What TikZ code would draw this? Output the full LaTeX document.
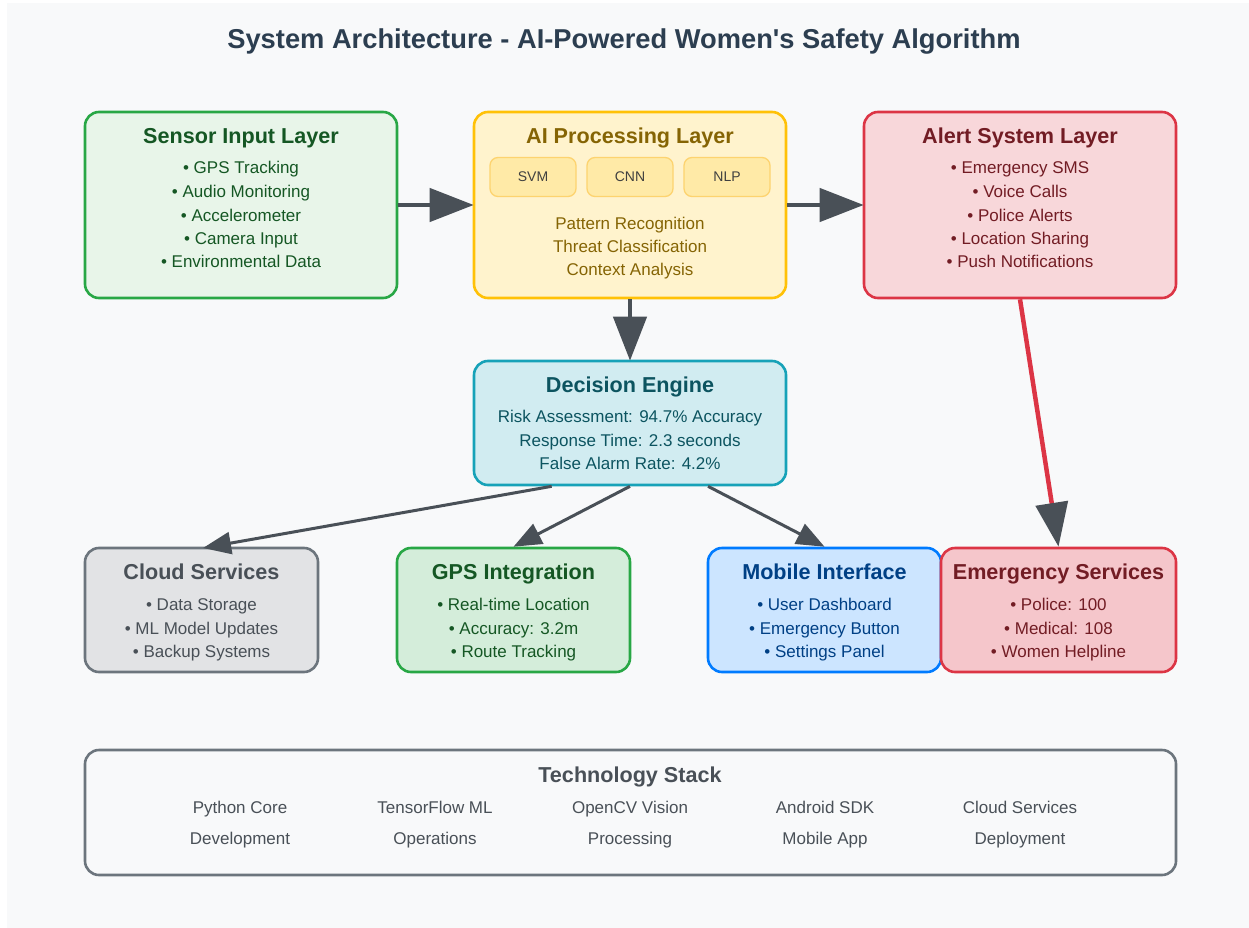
\documentclass[tikz,border=0pt]{standalone}
\usepackage{fontspec}
\setmainfont{Liberation Sans}
\usetikzlibrary{arrows.meta}

\definecolor{pagebg}{HTML}{F8F9FA}
\definecolor{titlecol}{HTML}{2C3E50}
\definecolor{arrowcol}{HTML}{495057}
% layer colours
\definecolor{grnline}{HTML}{28A745}\definecolor{grnfill}{HTML}{E8F5E9}\definecolor{grnfillb}{HTML}{D4EDDA}\definecolor{grntext}{HTML}{155724}
\definecolor{yelline}{HTML}{FFC107}\definecolor{yelfill}{HTML}{FFF3CD}\definecolor{yeltext}{HTML}{856404}
\definecolor{subfill}{HTML}{FFEAA7}\definecolor{subline}{HTML}{FDD36F}
\definecolor{redline}{HTML}{DC3545}\definecolor{redfill}{HTML}{F8D7DA}\definecolor{redfillb}{HTML}{F5C6CB}\definecolor{redtext}{HTML}{721C24}
\definecolor{cyanline}{HTML}{17A2B8}\definecolor{cyanfill}{HTML}{D1ECF1}\definecolor{cyantext}{HTML}{0C5460}
\definecolor{grayline}{HTML}{6C757D}\definecolor{grayfill}{HTML}{E2E3E5}\definecolor{graytext}{HTML}{495057}
\definecolor{blueline}{HTML}{007BFF}\definecolor{bluefill}{HTML}{CCE5FF}\definecolor{bluetext}{HTML}{004085}

\tikzset{
  layerbox/.style={draw, line width=2.6pt, rounded corners=14pt, inner sep=0pt},
  subbox/.style={draw=subline, fill=subfill, line width=1.3pt, rounded corners=8pt,
    minimum width=86pt, minimum height=39pt, inner sep=0pt, font=\fontsize{14}{14}\selectfont, text=black!75},
  boxtitle/.style={anchor=base, inner sep=0pt, font=\fontsize{21.6}{21.6}\selectfont\bfseries},
  itemtxt/.style={anchor=base, inner sep=0pt, font=\fontsize{17}{17}\selectfont},
  bigarrow/.style={draw=arrowcol, line width=4.5pt, -{Triangle[length=44pt,width=33pt]}, shorten >=-1pt},
  smallarrow/.style={draw=arrowcol, line width=3pt, -{Triangle[length=28pt,width=22pt]}},
}

\begin{document}
\begin{tikzpicture}[x=1pt,y=-1pt]
% page and backdrop
\useasboundingbox (0,0) rectangle (1249,928);
\fill[white] (0,0) rectangle (1249,928);
\fill[pagebg] (7,3) rectangle (1249,928);

\node[anchor=base, inner sep=0pt, font=\fontsize{27.3}{27.3}\selectfont\bfseries, text=titlecol] (title) at (624,49) {System Architecture - AI-Powered Women\textquotesingle s Safety Algorithm};

% ---- top row ----
\node[layerbox, draw=grnline, fill=grnfill, minimum width=312pt, minimum height=186pt] (sensor) at (241,205) {};
\node[boxtitle, text=grntext] (sensorT) at (241,143.5) {Sensor Input Layer};
\node[itemtxt, text=grntext] (s1) at (241,174) {• GPS Tracking};
\node[itemtxt, text=grntext] (s2) at (241,197) {• Audio Monitoring};
\node[itemtxt, text=grntext] (s3) at (241,221) {• Accelerometer};
\node[itemtxt, text=grntext] (s4) at (241,244) {• Camera Input};
\node[itemtxt, text=grntext] (s5) at (241,267) {• Environmental Data};

\node[layerbox, draw=yelline, fill=yelfill, minimum width=312pt, minimum height=186pt] (ai) at (630,205) {};
\node[boxtitle, text=yeltext] (aiT) at (630,143.5) {AI Processing Layer};
\node[subbox] (svm) at (533,177) {SVM};
\node[subbox] (cnn) at (630,177) {CNN};
\node[subbox] (nlp) at (727,177) {NLP};
\node[itemtxt, text=yeltext] (a1) at (630,229) {Pattern Recognition};
\node[itemtxt, text=yeltext] (a2) at (630,252) {Threat Classification};
\node[itemtxt, text=yeltext] (a3) at (630,275) {Context Analysis};

\node[layerbox, draw=redline, fill=redfill, minimum width=312pt, minimum height=186pt] (alert) at (1020,205) {};
\node[boxtitle, text=redtext] (alertT) at (1020,143.5) {Alert System Layer};
\node[itemtxt, text=redtext] (r1) at (1020,174) {• Emergency SMS};
\node[itemtxt, text=redtext] (r2) at (1020,197) {• Voice Calls};
\node[itemtxt, text=redtext] (r3) at (1020,221) {• Police Alerts};
\node[itemtxt, text=redtext] (r4) at (1020,244) {• Location Sharing};
\node[itemtxt, text=redtext] (r5) at (1020,267) {• Push Notifications};

% ---- decision engine ----
\node[layerbox, draw=cyanline, fill=cyanfill, minimum width=312pt, minimum height=124pt] (dec) at (630,423) {};
\node[boxtitle, text=cyantext] (decT) at (630,392.5) {Decision Engine};
\node[itemtxt, text=cyantext] (d1) at (630,422) {Risk Assessment: 94.7\% Accuracy};
\node[itemtxt, text=cyantext] (d2) at (630,446) {Response Time: 2.3 seconds};
\node[itemtxt, text=cyantext] (d3) at (630,469) {False Alarm Rate: 4.2\%};

% ---- bottom row ----
\node[layerbox, draw=grayline, fill=grayfill, minimum width=233pt, minimum height=124pt] (cloud) at (201.5,610) {};
\node[boxtitle, text=graytext] (cloudT) at (201.5,579.5) {Cloud Services};
\node[itemtxt, text=graytext] (c1) at (201.5,610) {• Data Storage};
\node[itemtxt, text=graytext] (c2) at (201.5,634) {• ML Model Updates};
\node[itemtxt, text=graytext] (c3) at (201.5,657) {• Backup Systems};

\node[layerbox, draw=grnline, fill=grnfillb, minimum width=233pt, minimum height=124pt] (gps) at (513.5,610) {};
\node[boxtitle, text=grntext] (gpsT) at (513.5,579.5) {GPS Integration};
\node[itemtxt, text=grntext] (g1) at (513.5,610) {• Real-time Location};
\node[itemtxt, text=grntext] (g2) at (513.5,634) {• Accuracy: 3.2m};
\node[itemtxt, text=grntext] (g3) at (513.5,657) {• Route Tracking};

\node[layerbox, draw=blueline, fill=bluefill, minimum width=233pt, minimum height=124pt] (mobile) at (824.5,610) {};
\node[boxtitle, text=bluetext] (mobileT) at (824.5,579.5) {Mobile Interface};
\node[itemtxt, text=bluetext] (m1) at (824.5,610) {• User Dashboard};
\node[itemtxt, text=bluetext] (m2) at (824.5,634) {• Emergency Button};
\node[itemtxt, text=bluetext] (m3) at (824.5,657) {• Settings Panel};

\node[layerbox, draw=redline, fill=redfillb, minimum width=235pt, minimum height=124pt] (emerg) at (1058.5,610) {};
\node[boxtitle, text=redtext] (emergT) at (1058.5,579.5) {Emergency Services};
\node[itemtxt, text=redtext] (e1) at (1058.5,610) {• Police: 100};
\node[itemtxt, text=redtext] (e2) at (1058.5,634) {• Medical: 108};
\node[itemtxt, text=redtext] (e3) at (1058.5,657) {• Women Helpline};

% ---- technology stack ----
\node[layerbox, draw=grayline, minimum width=1091pt, minimum height=125pt] (stack) at (630.5,812.5) {};
\node[boxtitle, text=graytext] (stackT) at (630,782.5) {Technology Stack};
\foreach \x/\a/\b [count=\i] in {240/Python Core/Development, 435/TensorFlow ML/Operations, 630/OpenCV Vision/Processing, 825/Android SDK/Mobile App, 1020/Cloud Services/Deployment}{
  \node[itemtxt, text=graytext] (tA\i) at (\x,813) {\a};
  \node[itemtxt, text=graytext] (tB\i) at (\x,844) {\b};
}

% ---- connectors ----
\draw[bigarrow] (sensor.east) -- (ai.west);
\draw[bigarrow] (ai.east) -- (alert.west);
\draw[bigarrow] (ai.south) -- (dec.north);
\draw[smallarrow] (dec.south west) ++(79,0) coordinate (dL) -- (203,548) coordinate (cloudIn);
\draw[smallarrow] (dec.south) -- (gps.north);
\draw[smallarrow] (dec.south) ++(78,0) coordinate (dR) -- (mobile.north);
\draw[draw=redline, line width=4.5pt, -{Triangle[length=44pt,width=32pt,color=arrowcol]}]
  (alert.south) -- (emerg.north);
\end{tikzpicture}
\end{document}
